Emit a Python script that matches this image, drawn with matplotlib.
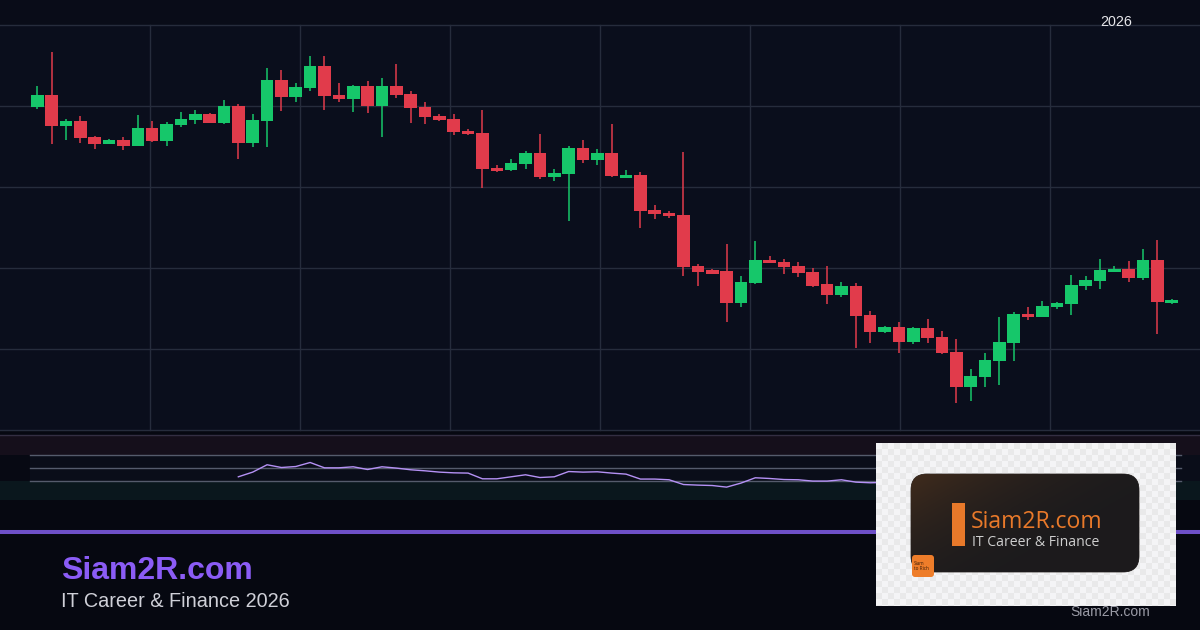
import numpy as np
import matplotlib
matplotlib.use("Agg")
import matplotlib.pyplot as plt
from matplotlib.patches import Rectangle, FancyBboxPatch
from matplotlib.lines import Line2D

# ---------------- data (price units, arbitrary scale) ----------------
opens = [323.3, 335, 304.3, 309, 293, 286, 290, 284, 302, 289,
         305, 310, 316, 307, 324, 287, 309, 350, 333, 342,
         364, 335, 331, 344, 324, 344, 336, 323, 314, 311,
         299, 297, 262, 260, 266, 277, 253, 256, 282, 270,
         277, 252, 255, 220, 217, 215, 164, 160, 159, 127,
         147, 170, 168, 164, 158, 146, 135, 144, 115, 98,
         103, 88, 102, 93, 78, 43, 53, 69, 87, 116,
         113, 123, 126, 144, 149, 158, 161, 152, 170, 127]
highs = [344, 378.3, 311, 314, 294.3, 291, 293, 315, 309, 308,
         318, 320, 317, 330, 326, 316, 362, 360, 347, 374,
         374, 347, 345, 349, 352, 366, 339, 328, 316, 316,
         301, 320, 265, 271, 279, 296, 261, 284, 290, 281,
         306, 260, 258, 225, 219, 278, 166, 161, 186, 154,
         189, 174, 171, 168, 162, 164, 148, 147, 119, 104,
         108, 103, 111, 99, 91, 61, 77, 113, 118, 123,
         129, 128, 155, 154, 171, 164, 169, 181, 190, 131]
lows = [320.7, 286, 290, 287.3, 281, 286, 280, 284, 288, 284,
        303, 306, 307, 306, 271, 283, 283, 319, 328, 339,
        320, 328, 318, 317, 293, 332, 307, 306, 309, 295,
        295, 242, 258, 259, 261, 251, 249, 209, 267, 265,
        253, 252, 202, 211, 212, 154, 144, 156, 108, 123,
        146, 167, 156, 153, 143, 126, 133, 82, 87, 97,
        77, 86, 87, 76, 27, 29, 43, 45, 69, 110,
        113, 121, 115, 140, 141, 158, 148, 150, 96, 126]
closes = [335, 304.3, 309, 292.3, 286, 290, 284, 302, 289, 306,
          311, 316, 307, 324, 287, 310, 350, 333, 343, 364,
          334, 331, 344, 324, 344, 335, 322, 313, 310, 298,
          296, 261, 259, 267, 277, 253, 257, 282, 270, 277,
          254, 255, 219, 216, 214, 163, 158, 156, 127, 148,
          170, 167, 163, 157, 144, 135, 144, 114, 98, 103,
          88, 102, 92, 77, 43, 54, 70, 88, 116, 113,
          124, 127, 145, 150, 160, 161, 152, 170, 128, 130]

rsi_start = 14
rsi_values = [35.7, 42.9, 54.2, 50, 51.5, 57.7,
              49.5, 49.5, 51.1, 46.9, 51.1, 49.1, 46.5, 44.9, 42.9, 41.8,
              41.4, 32.6, 32.6, 35.7, 38.8, 34.6, 35.7, 43.8, 42.9, 43.4,
              41.4, 39.8, 32.2, 32.2, 31.1, 23.8, 22.9, 22.3, 19.8, 26.0,
              34.2, 33.1, 31.5, 31.1, 29.1, 29.1, 31.1, 27.5, 26.5, 27,
              22, 27, 24, 20, 14, 20, 28, 37, 47, 46,
              50, 51, 57, 58, 61, 61, 58, 63, 47, 48]
rsi_levels = [30, 50, 70]

year_label = "2026"
brand = "Siam2R.com"
tagline = "IT Career & Finance 2026"
logo_tag = "IT Career & Finance"
logo_badge = "Siam\nto Rich"

# ---------------- styling ----------------
W, H = 1200, 630
GREEN = "#16c76a"
RED = "#e13b4b"
GRID = "#262c3c"

fig = plt.figure(figsize=(12, 6.3), dpi=100)
fig.patch.set_facecolor("#060811")

def fy(px):
    return 1 - px / H

# top strip (behind everything)
fig.patches.append(Rectangle((0, fy(25)), 1, 25 / H, transform=fig.transFigure,
                             facecolor="#090c18", edgecolor="none", zorder=-5))

n = len(opens)
idx = np.arange(n)
x0_px, step_px = 37.3, 14.36
xlo = -x0_px / step_px
xhi = (W - x0_px) / step_px

# ---------------- main candle axes ----------------
ax = fig.add_axes([0, fy(430), 1, 405 / H])
ax.set_facecolor("#0a0e1c")
ax.set_xlim(xlo, xhi)
ax.set_ylim(0, 405)
for s in ax.spines.values():
    s.set_visible(False)
ax.set_xticks(np.linspace(xlo, xhi, 9)[1:-1])
ax.set_yticks(np.linspace(0, 405, 6))
ax.tick_params(length=0, labelbottom=False, labelleft=False)
ax.grid(True, color=GRID, lw=1.0, zorder=0)
for gl in ax.get_xgridlines() + ax.get_ygridlines():
    gl.set_clip_on(False)

o = np.array(opens); c = np.array(closes)
hi = np.array(highs); lo = np.array(lows)
up = c >= o
cols = np.where(up, GREEN, RED)
ax.vlines(idx, lo, hi, colors=cols, lw=1.1, zorder=2)
ax.bar(idx, np.maximum(np.abs(c - o), 1.5), bottom=np.minimum(o, c), width=0.88,
       color=cols, edgecolor="none", zorder=3)

# ---------------- RSI panel ----------------
ar = fig.add_axes([0, fy(500), 1, 65 / H])
ar.set_facecolor("#0a0d19")
ar.set_xlim(xlo, xhi)
ar.set_ylim(0, 100)
ar.axis("off")
ar.add_patch(Rectangle((0, 0), 1, 1, transform=ar.transAxes, facecolor="#0a0d19",
                       edgecolor="none", zorder=0))
ar.axhspan(70, 100, color="#150f1b", lw=0, zorder=1)
ar.axhspan(0, 30, color="#0a171d", lw=0, zorder=1)
ar.add_patch(Rectangle((0, 30), 30 / W, 40, transform=ar.get_yaxis_transform(),
                       facecolor="#070913", edgecolor="none", zorder=1))
for lv in rsi_levels:
    ar.axhline(lv, xmin=30 / W, xmax=1181 / W, color="#555b6c", lw=1.0, zorder=2)
ar.plot(np.arange(rsi_start, rsi_start + len(rsi_values)), rsi_values,
        color="#b591f5", lw=1.0, zorder=3)

# ---------------- overlay in pixel coords ----------------
ov = fig.add_axes([0, 0, 1, 1])
ov.set_xlim(0, W)
ov.set_ylim(H, 0)
ov.axis("off")
ov.patch.set_alpha(0)

ov.add_line(Line2D([0, W], [435, 435], color="#332e42", lw=1.0))
ov.add_line(Line2D([0, W], [532, 532], color="#6e50c8", lw=2.9, solid_capstyle="butt"))

# texts
ov.text(1100, 25.7, year_label, fontsize=10.3, color="#e6e6ea",
        family="Liberation Sans", va="baseline", ha="left", zorder=10)
ov.text(61, 579, brand, fontsize=23, fontweight="bold", color="#8b5cf6",
        family="Liberation Sans", va="baseline", ha="left")
ov.text(61, 606.7, tagline, fontsize=14.3, color="#cfd0d8",
        family="Liberation Sans", va="baseline", ha="left")
ov.text(1070, 615.7, brand, fontsize=10, color="#9a9ba6",
        family="Liberation Sans", va="baseline", ha="left")

# logo box with checkerboard
bx0, by0, bx1, by1 = 876, 443, 1176, 606
sq = 6
nx, ny = int(np.ceil((bx1 - bx0) / sq)), int(np.ceil((by1 - by0) / sq))
chk = (np.add.outer(np.arange(ny), np.arange(nx)) % 2).astype(float)
chk_img = np.where(chk[..., None] > 0, np.array([0.915, 0.915, 0.92]),
                   np.array([0.96, 0.96, 0.965]))
chk_im = ov.imshow(chk_img, extent=(bx0, bx0 + nx * sq, by0 + ny * sq, by0),
                   interpolation="nearest", zorder=5, aspect="auto")
clipbox = Rectangle((bx0, by0), bx1 - bx0, by1 - by0, transform=ov.transData,
                    facecolor="none", edgecolor="none")
ov.add_patch(clipbox)
chk_im.set_clip_path(clipbox)

dark = FancyBboxPatch((911, 474), 228, 98, boxstyle="round,pad=0,rounding_size=16",
                      facecolor="#1d1b1c", edgecolor="#3a3532", lw=0.6, zorder=6)
ov.add_patch(dark)
gy, gx = np.mgrid[0:1:60j, 0:1:120j]
t = np.clip(1 - (0.8 * gx + 0.6 * gy), 0, 1) ** 2
base = np.array([0.11, 0.105, 0.11])
warm = np.array([0.25, 0.17, 0.11])
grad = base + (warm - base) * t[..., None]
im = ov.imshow(grad, extent=(911, 1139, 572, 474), zorder=6.5, aspect="auto",
               interpolation="bilinear")
im.set_clip_path(dark)

ov.add_patch(Rectangle((952, 503), 13, 43, facecolor="#e8792a", edgecolor="none", zorder=7))
ov.text(971, 528, brand, fontsize=16.6, fontweight="medium", color="#e8792a",
        family="Open Sans", va="baseline", ha="left", zorder=8)
ov.text(972, 545.5, logo_tag, fontsize=10.1, color="#cfcfcf", family="Open Sans",
        va="baseline", ha="left", zorder=8)
ov.add_patch(FancyBboxPatch((912, 555), 22, 22, boxstyle="round,pad=0,rounding_size=3",
                            facecolor="#ee7d2a", edgecolor="none", zorder=8))
ov.text(914, 566, logo_badge, fontsize=3.3, color="#3a1c08", family="Open Sans",
        va="center", ha="left", zorder=9, linespacing=1.1)

fig.savefig("out.png", dpi=100, facecolor=fig.get_facecolor())
